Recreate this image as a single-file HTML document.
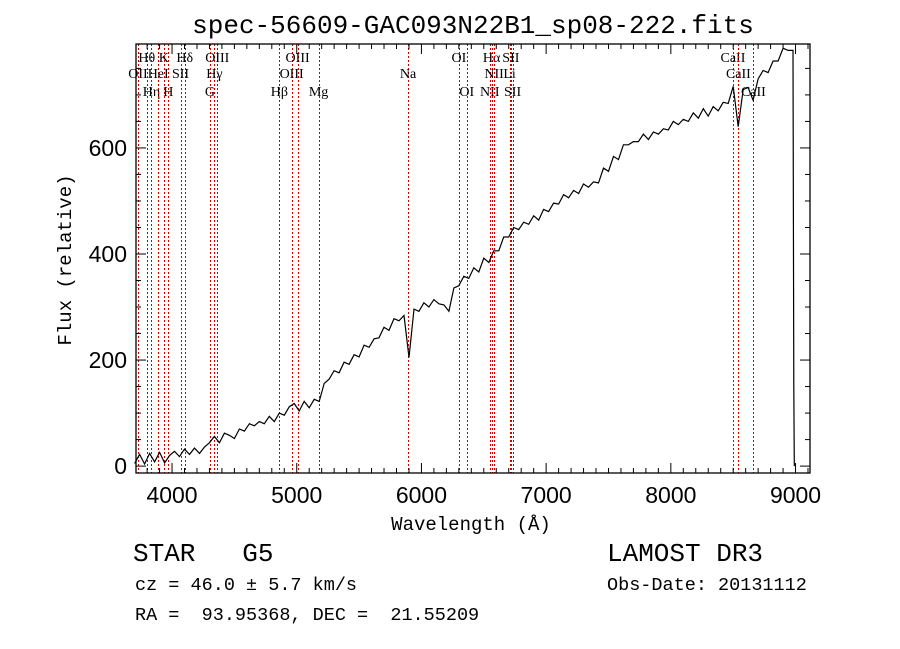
<!DOCTYPE html>
<html><head><meta charset="utf-8"><style>
html,body{margin:0;padding:0;background:#fff;}
svg{display:block;}
.mono{font-family:"Liberation Mono",monospace;}
.sans{font-family:"Liberation Sans",sans-serif;}
.ser{font-family:"Liberation Serif",serif;}
</style></head><body>
<svg id="chart" width="900" height="649" viewBox="0 0 900 649">
<text class="mono" x="473" y="33" font-size="26" text-anchor="middle">spec-56609-GAC093N22B1_sp08-222.fits</text>
<g id="lines"></g>
<g id="axes"></g>
<g id="series"></g>
<text class="mono" x="471" y="530" font-size="19" text-anchor="middle">Wavelength (Å)</text>
<text class="mono" transform="translate(71,260) rotate(-90)" font-size="19" text-anchor="middle">Flux (relative)</text>
<text class="mono" x="133" y="561" font-size="26" xml:space="preserve">STAR   G5</text>
<text class="mono" x="607" y="561" font-size="26">LAMOST DR3</text>
<text class="mono" x="135" y="590" font-size="18.5">cz = 46.0 ± 5.7 km/s</text>
<text class="mono" x="607" y="590" font-size="18.5">Obs-Date: 20131112</text>
<text class="mono" x="135" y="620" font-size="18.5" xml:space="preserve">RA =  93.95368, DEC =  21.55209</text>
</svg>
<script>
const xTicks = [4000,5000,6000,7000,8000,9000];
const yTicks = [0,200,400,600];
const lineWaves = [3727,3798,3835,3889,3934,3970,4068,4102,4304,4340,4363,4861,4959,5007,5175,5893,6300,6364,6548,6563,6583,6707,6717,6731,8498,8542,8662];
const lineLabels = ["OII","Hθ","Hη","HeI","K","H","SII","Hδ","G","Hγ","OIII","Hβ","OIII","OIII","Mg","Na","OI","OI","NII","Hα","NII","Li","SII","SII","CaII","CaII","CaII"];
const lineRows = [1,0,2,1,0,2,1,0,2,1,0,2,1,0,2,1,0,2,2,0,1,1,0,2,0,1,2];
const waveStart = [3700];
const waveStep = [40];
const flux = [
5,22,4,24,8,26,6,20,
28,18,32,22,34,24,36,44,
56,44,62,58,52,70,66,80,
76,84,80,94,84,100,96,112,
118,104,122,110,126,122,156,164,
180,176,196,192,210,206,228,224,
240,242,262,256,278,274,284,205,
296,292,308,300,314,306,304,292,
336,340,358,354,374,366,392,384,
406,406,432,432,450,446,460,456,
472,464,484,480,496,494,512,506,
520,514,532,526,536,534,562,556,
584,578,606,606,612,612,626,616,
630,626,636,634,650,644,654,650,
666,656,674,660,678,670,686,684,
716,640,710,714,690,730,746,742,
764,764,788,784,784,150,0];

const X0=136,X1=810,Y0=44,Y1=473;
const WMIN=3711,WMAX=9116,FMIN=-13,FMAX=796;
const xs=w=>X0+(w-WMIN)/(WMAX-WMIN)*(X1-X0);
const ys=f=>Y1-(f-FMIN)/(FMAX-FMIN)*(Y1-Y0);
const NS="http://www.w3.org/2000/svg";
function mk(tag,attrs,parent){const e=document.createElementNS(NS,tag);for(const k in attrs)e.setAttribute(k,attrs[k]);parent.appendChild(e);return e;}

// emission lines
const gl=document.getElementById('lines');
const rowY=[62,78,96];
lineWaves.forEach((w,i)=>{
  const x=Math.round(xs(w))+0.5;
  const l=mk('line',{x1:x,x2:x,y1:Y0,y2:Y1,stroke:'#cc0000','stroke-width':1,'stroke-dasharray':'2,2','shape-rendering':'crispEdges'},gl);
  
  
  const t=mk('text',{x:xs(w),y:rowY[lineRows[i]],'font-size':14,'text-anchor':'middle','class':'ser'},gl);
  t.textContent=lineLabels[i];
  
  
});

// axes
const ga=document.getElementById('axes');
const fr=mk('rect',{x:X0,y:Y0,width:X1-X0,height:Y1-Y0,fill:'none',stroke:'#000','stroke-width':1.3},ga);


for(let w=3800;w<=9100;w+=100){
  const x=xs(w);const L=(w%1000===0)?10:5;
  mk('line',{x1:x,x2:x,y1:Y1,y2:Y1-L,stroke:'#000'},ga);
  mk('line',{x1:x,x2:x,y1:Y0,y2:Y0+L,stroke:'#000'},ga);
}
for(let f=0;f<=750;f+=50){
  const y=ys(f);const L=(f%200===0)?10:5;
  mk('line',{x1:X0,x2:X0+L,y1:y,y2:y,stroke:'#000'},ga);
  mk('line',{x1:X1,x2:X1-L,y1:y,y2:y,stroke:'#000'},ga);
}
xTicks.forEach(v=>{
  const t=mk('text',{x:xs(v),y:503,'font-size':23,'text-anchor':'middle','class':'sans'},ga);
  t.textContent=v;
  
  
});
yTicks.forEach(v=>{
  const t=mk('text',{x:127,y:ys(v)+8,'font-size':23,'text-anchor':'end','class':'sans'},ga);
  t.textContent=v;
  
  
});

// spectrum
const gs=document.getElementById('series');
const pts=flux.map((f,i)=>{
  let w=waveStart[0]+waveStep[0]*i;
  if(i===flux.length-2)w=8986;
  if(i===flux.length-1)w=8990;
  return xs(w).toFixed(1)+','+ys(f).toFixed(1);
}).join(' ');
const pl=mk('polyline',{points:pts,fill:'none',stroke:'#000','stroke-width':1.2},gs);


</script>
</body></html>
